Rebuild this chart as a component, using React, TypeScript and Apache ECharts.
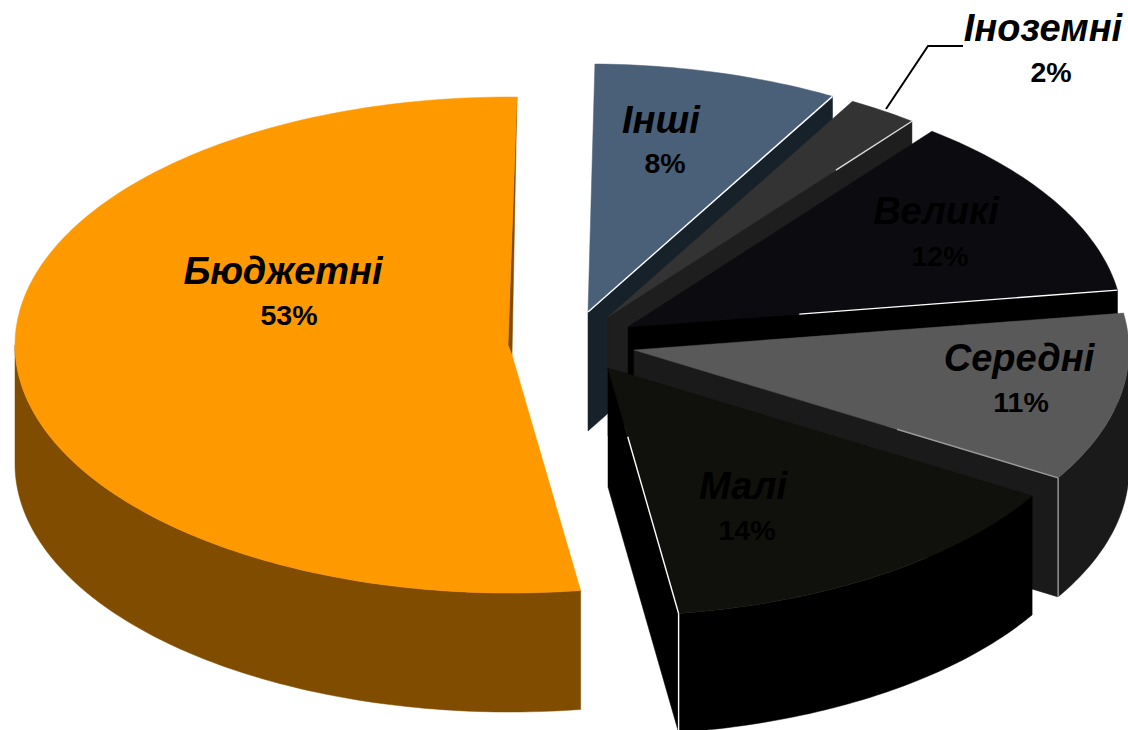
import React, { useEffect, useRef } from "react";
import * as echarts from "echarts";

// ---- data ----
const categories = ["Інші", "Іноземні", "Великі", "Середні", "Малі", "Бюджетні"];
const shares = [8, 2.3, 12.1, 11, 14.1, 52.5];
const percentLabels = ["8%", "2%", "12%", "11%", "14%", "53%"];

// ---- styling ----
const topColors = ["#4a6079", "#333333", "#0c0c10", "#595959", "#10100c", "#ff9900"];
const wallColors = ["#16212a", "#1e1e1e", "#000000", "#1a1a1a", "#000000", "#804d00"];
const edgeColors = ["#ffffff", "#dddddd", "#ffffff", "#999999", "#ffffff", "none"];
// how much of the radial edge (from the rim inward) carries the light line
const edgeLengths = [1, 0.25, 0.65, 0.38, 0.72, 0];
const verticalEdge = [false, false, false, true, true, false];

// ---- layout ----
const START_ANGLE = 0.8;
const RX = 495;
const RY = 248;
const DEPTH = 119;
const centersX = [588, 608, 628, 634, 608, 510];
const centersY = [312, 317, 327, 350, 368, 345];
const nameX = [661, 1043, 936, 1019, 743, 283];
const nameY = [120, 28, 211, 358, 486, 271];
const pctX = [665, 1051, 940, 1021, 747, 289];
const pctY = [163, 72, 256, 402, 530, 315];
const leaderLine = [[886, 109], [928, 46], [963, 46]];
const NAME_FONT = 'italic bold 38px "Liberation Sans", Arial, sans-serif';
const PCT_FONT = 'bold 28.5px "Liberation Sans", Arial, sans-serif';

const total = shares.reduce((a, b) => a + b, 0);
const startAngles: number[] = [];
shares.reduce((acc, v, i) => {
  startAngles[i] = acc;
  return acc + (v / total) * 360;
}, START_ANGLE);

function rim(cx: number, cy: number, deg: number): number[] {
  const t = (deg * Math.PI) / 180;
  return [cx + RX * Math.sin(t), cy - RY * Math.cos(t)];
}

function renderSlice(_params: any, api: any) {
  const i = api.value(1) as number;
  const sweep = (api.value(0) / total) * 360;
  const a0 = startAngles[i];
  const a1 = a0 + sweep;
  const cx = centersX[i];
  const cy = centersY[i];
  const isMain = i === categories.length - 1;
  const children: any[] = [];
  const poly = (points: number[][], fill: string) => ({
    type: "polygon",
    silent: true,
    shape: { points },
    style: { fill, stroke: fill, lineWidth: 0.5 },
  });
  const line = (p: number[], q: number[], stroke: string, lineWidth = 1.4) => ({
    type: "line",
    silent: true,
    shape: { x1: p[0], y1: p[1], x2: q[0], y2: q[1] },
    style: { stroke, lineWidth },
  });

  const endP = rim(cx, cy, a1);

  // radial wall on the clockwise end of the slice
  if (isMain) {
    children.push(poly([endP, [cx - 2, cy], [cx + 2, cy + 10]], wallColors[i]));
  } else {
    children.push(
      poly([endP, [cx, cy], [cx, cy + DEPTH], [endP[0], endP[1] + DEPTH]], wallColors[i])
    );
  }

  // outer wall (front half of the rim only)
  const w0 = Math.max(a0, 90);
  const w1 = Math.min(a1, 270);
  if (w1 > w0) {
    const upper: number[][] = [];
    const lower: number[][] = [];
    for (let a = w0; ; a += 1) {
      const d = Math.min(a, w1);
      const p = rim(cx, cy, d);
      upper.push(p);
      lower.unshift([p[0], p[1] + DEPTH]);
      if (d >= w1) break;
    }
    children.push(poly(upper.concat(lower), wallColors[i]));
  }

  // top face
  const face: number[][] = [];
  for (let a = a0; ; a += 1) {
    const d = Math.min(a, a1);
    face.push(rim(cx, cy, d));
    if (d >= a1) break;
  }
  if (isMain) {
    face.push([cx - 2, cy], [cx + 2, cy + 10]);
  } else {
    face.push([cx, cy]);
  }
  children.push(poly(face, topColors[i]));

  // light edge lines
  if (edgeLengths[i] > 0) {
    const k = edgeLengths[i];
    children.push(
      line(endP, [endP[0] + (cx - endP[0]) * k, endP[1] + (cy - endP[1]) * k], edgeColors[i])
    );
    if (verticalEdge[i]) {
      children.push(line(endP, [endP[0], endP[1] + DEPTH], edgeColors[i]));
    }
  }

  return { type: "group", children };
}

function renderLabel(_params: any, api: any) {
  const i = api.value(0) as number;
  return {
    type: "group",
    children: [
      {
        type: "text",
        silent: true,
        style: {
          text: categories[i],
          x: nameX[i],
          y: nameY[i],
          font: NAME_FONT,
          fill: "#000000",
          align: "center",
          verticalAlign: "middle",
        },
      },
      {
        type: "text",
        silent: true,
        style: {
          text: percentLabels[i],
          x: pctX[i],
          y: pctY[i],
          font: PCT_FONT,
          fill: "#000000",
          align: "center",
          verticalAlign: "middle",
        },
      },
    ],
  };
}

export default function App() {
  const ref = useRef<HTMLDivElement>(null);
  useEffect(() => {
    document.body.style.margin = "0";
    const chart = echarts.init(ref.current!, undefined, { renderer: "svg" });
    chart.setOption({
      animation: false,
      backgroundColor: "#ffffff",
      graphic: [
        {
          type: "polyline",
          silent: true,
          z: 20,
          shape: { points: leaderLine },
          style: { stroke: "#000000", lineWidth: 2, fill: "none" },
        },
      ],
      series: [
        {
          type: "custom",
          coordinateSystem: "none",
          silent: true,
          z: 1,
          renderItem: renderSlice,
          data: shares.map((v, i) => [v, i]),
        },
        {
          type: "custom",
          coordinateSystem: "none",
          silent: true,
          z: 10,
          renderItem: renderLabel,
          data: categories.map((_, i) => [i]),
        },
      ],
    });
    return () => chart.dispose();
  }, []);
  return <div ref={ref} style={{ width: 1128, height: 730, overflow: "hidden" }} />;
}
